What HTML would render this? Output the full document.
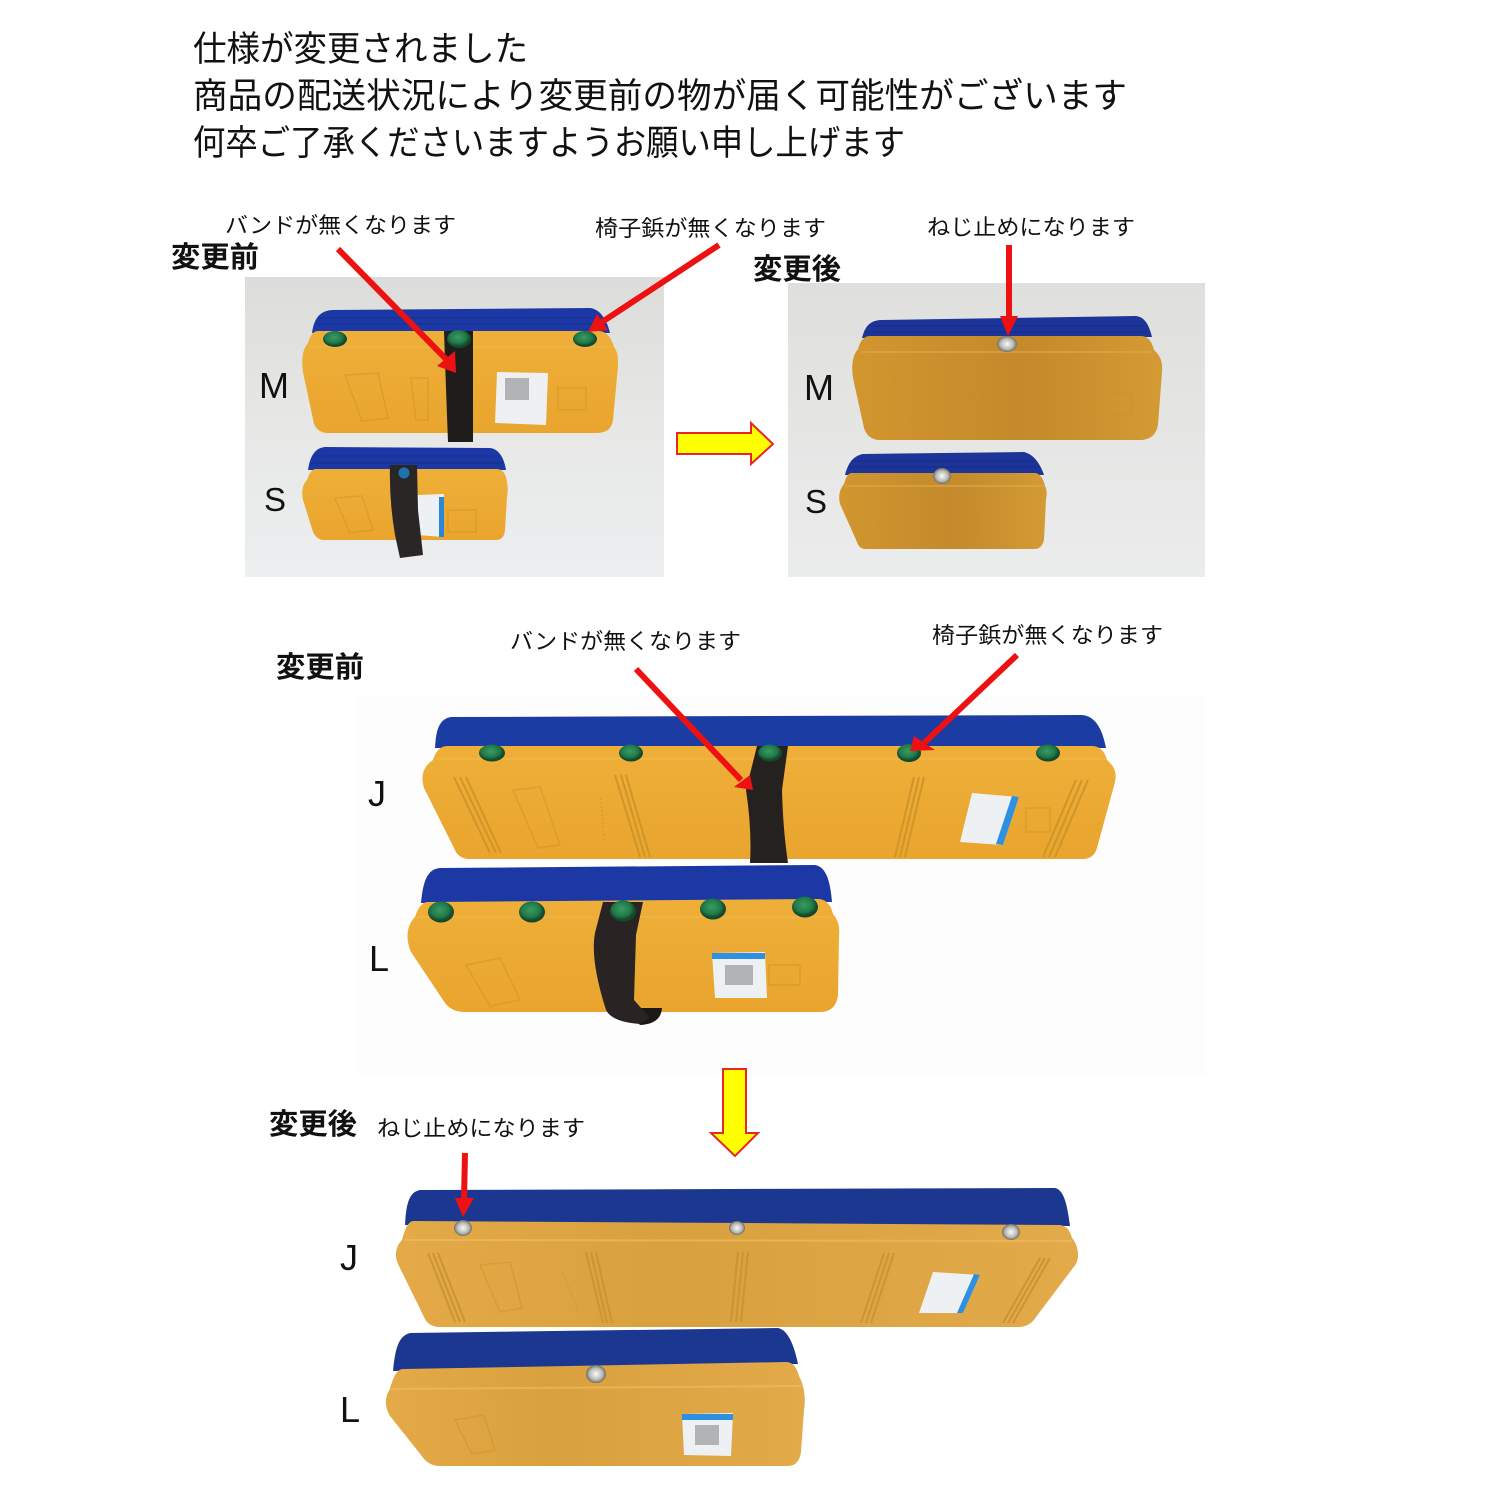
<!DOCTYPE html>
<html lang="ja"><head><meta charset="utf-8"><title>仕様変更</title>
<style>
html,body{margin:0;padding:0;background:#fff}
svg{display:block}
text{font-family:"Liberation Sans","Noto Sans CJK JP",sans-serif;fill:#111}
.t{font-size:35px}
.c{font-size:22px}
.b{font-size:29px;font-weight:700}
.l{font-size:36px}
.rib{stroke:#cf9528;stroke-width:2;fill:none}
.emb{stroke:#cc9226;stroke-width:1.5;fill:none;opacity:.5}
.cord{stroke:#12297e;stroke-width:1.2;fill:none;opacity:.5}
.edge{stroke:#f3bd58;stroke-width:1.5;fill:none;opacity:.5}
</style></head><body>
<svg width="1500" height="1500" viewBox="0 0 1500 1500" xmlns="http://www.w3.org/2000/svg">
<defs>
<linearGradient id="o" x1="0" y1="0" x2="0" y2="1"><stop offset="0" stop-color="#eeaf39"/><stop offset="1" stop-color="#e9a52e"/></linearGradient>
<linearGradient id="o2" x1="0" y1="0" x2="1" y2="0"><stop offset="0" stop-color="#d2962f"/><stop offset=".55" stop-color="#c48a2b"/><stop offset="1" stop-color="#d49a34"/></linearGradient>
<linearGradient id="o3" x1="0" y1="0" x2="1" y2="0"><stop offset="0" stop-color="#e5aa48"/><stop offset=".4" stop-color="#d9a03e"/><stop offset="1" stop-color="#e3aa4a"/></linearGradient>
<linearGradient id="bgl" x1="0" y1="0" x2="0" y2="1"><stop offset="0" stop-color="#dcdddb"/><stop offset=".5" stop-color="#e7e8e6"/><stop offset="1" stop-color="#eceef0"/></linearGradient>
<linearGradient id="bgr" x1="0" y1="0" x2="0" y2="1"><stop offset="0" stop-color="#dfe0de"/><stop offset=".5" stop-color="#e5e6e4"/><stop offset="1" stop-color="#ebecec"/></linearGradient>
<radialGradient id="g" cx=".45" cy=".4"><stop offset="0" stop-color="#3c9a63"/><stop offset=".7" stop-color="#1f7a48"/><stop offset="1" stop-color="#14492d"/></radialGradient>
<radialGradient id="s"><stop offset="0" stop-color="#fafafa"/><stop offset=".65" stop-color="#b9bbb6"/><stop offset="1" stop-color="#6f6d62"/></radialGradient>
</defs>
<rect width="1500" height="1500" fill="#fff"/>
<text class="t" x="193" y="61" textLength="335" lengthAdjust="spacingAndGlyphs">仕様が変更されました</text>
<text class="t" x="193" y="108" textLength="934" lengthAdjust="spacingAndGlyphs">商品の配送状況により変更前の物が届く可能性がございます</text>
<text class="t" x="193" y="155" textLength="712" lengthAdjust="spacingAndGlyphs">何卒ご了承くださいますようお願い申し上げます</text>

<!-- top left photo -->
<rect x="245" y="277" width="419" height="300" fill="url(#bgl)"/>
<path d="M312 333C314 318 320 311 332 310L590 308C600 309 607 320 610 333Z" fill="#1c38a6"/>
<path class="cord" d="M318 318H600M315 324H604"/>
<path d="M318 331H598C608 331 612 340 614 347C618 352 618 358 618 366L613 420Q611 433 597 433H328Q318 433 314 424L303 372C301 358 303 349 308 343C310 336 313 331 318 331Z" fill="url(#o)"/>
<path class="edge" d="M309 347H612"/>
<path class="emb" d="M345 375L378 373L388 418L362 421Z"/><path class="emb" d="M411 378H428V420H416Z"/><rect class="emb" x="558" y="388" width="28" height="22"/>
<path d="M444 331H473V442H448Q446 390 444 331Z" fill="#1f1c1c"/>
<polygon points="497,372 548,373 546,425 495,423" fill="#eef0f2"/>
<rect x="505" y="378" width="24" height="22" fill="#8a8a8c" opacity=".6"/>
<ellipse cx="335" cy="339" rx="12" ry="8" fill="url(#g)"/><ellipse cx="459" cy="339" rx="12" ry="9" fill="url(#g)"/><ellipse cx="585" cy="339" rx="12" ry="8" fill="url(#g)"/>
<path d="M308 470C310 456 315 448 325 447L490 448C499 449 504 458 506 470Z" fill="#1c38a6"/>
<path class="cord" d="M314 456H500M311 463H503"/>
<path d="M316 469H496C503 469 506 474 507 482C508 487 508 492 507 497L505 530Q504 540 496 540H324Q317 540 313 532L303 500C301 491 303 484 307 480C309 473 312 469 316 469Z" fill="url(#o)"/>
<path class="emb" d="M335 498L362 496L373 530L350 533Z"/><rect class="emb" x="448" y="510" width="28" height="22"/>
<polygon points="417,495 444,494 443,537 417,535" fill="#eef1f3"/>
<rect x="439" y="497" width="5" height="40" fill="#2a86d8"/>
<path d="M390 465H417L418 510L423 555L400 558L395 535Q389 500 390 465Z" fill="#2b2626"/>
<circle cx="404" cy="473" r="5.5" fill="#1d72b0"/>

<!-- top right photo -->
<rect x="788" y="283" width="417" height="294" fill="url(#bgr)"/>
<path d="M862 338C865 326 870 321 880 320L1136 316C1145 317 1149 325 1152 337Z" fill="#1d3499"/>
<path class="cord" d="M870 326H1145M865 332H1149"/>
<path d="M870 336H1141C1148 336 1152 342 1154 350C1160 355 1163 362 1162 372L1158 425Q1155 440 1140 440H880Q868 440 864 428L853 378C851 364 853 355 858 349C860 341 864 336 870 336Z" fill="url(#o2)"/>
<path d="M861 352H1152" stroke="#dcaa4c" stroke-width="2" fill="none" opacity=".6"/>
<path class="emb" d="M893 378L920 376L937 424L914 427Z"/><path class="emb" d="M960 382H976L978 424H963Z"/><rect class="emb" x="1100" y="393" width="32" height="22"/>
<path d="M845 475C848 463 853 456 863 454L1024 452C1033 454 1040 463 1044 475Z" fill="#1d3499"/>
<path class="cord" d="M852 461H1036M848 467H1040"/>
<path d="M852 473H1034C1040 473 1043 478 1045 486C1047 490 1047 494 1046 500L1044 540Q1042 549 1034 549H866Q859 549 857 542L840 504C838 495 840 489 844 484C846 477 848 473 852 473Z" fill="url(#o2)"/>
<path d="M845 486H1044" stroke="#dcaa4c" stroke-width="2" fill="none" opacity=".6"/>
<path class="emb" d="M870 503L896 500L908 538L888 541Z"/><rect class="emb" x="984" y="514" width="30" height="20"/>
<ellipse cx="1007" cy="344" rx="10" ry="8" fill="url(#s)"/>
<ellipse cx="942" cy="476" rx="9" ry="8" fill="url(#s)"/>

<!-- middle photo -->
<rect x="357" y="696" width="848" height="380" fill="#fdfdfd"/>
<path d="M435 748C436 728 440 718 452 717L1082 715C1095 716 1102 728 1106 748Z" fill="#1b3ca3"/>
<path d="M448 746H1092C1100 746 1105 752 1107 760C1114 766 1117 772 1115 782L1097 848Q1094 859 1082 859H470Q458 859 454 848L424 788C420 775 424 766 433 760C436 751 440 746 448 746Z" fill="url(#o)"/>
<path class="edge" d="M436 759H1106"/>
<g class="rib"><path d="M454 777L490 853M460 777L496 853M466 777L501 853"/><path d="M615 775L640 857M621 775L645 857M626 775L650 857"/><path d="M914 777L895 857M919 777L900 857M924 777L905 857"/><path d="M1076 780L1043 857M1082 780L1049 857M1088 780L1055 857"/></g>
<path class="emb" d="M513 790L540 787L560 845L538 848Z"/><path class="emb" d="M601 798L604 842" stroke-width="3" stroke-dasharray="2 2"/>
<polygon points="972,793 1019,797 1003,845 960,842" fill="#eef1f4"/>
<polygon points="1012,796 1019,797 1003,845 996,844" fill="#2f8fe0"/>
<rect x="1026" y="808" width="24" height="24" class="emb"/>
<path d="M757 746H788L782 790Q783 830 788 863H750Q752 830 746 790Z" fill="#25211f"/>
<ellipse cx="492" cy="753" rx="13" ry="8.5" fill="url(#g)"/><ellipse cx="631" cy="753" rx="12" ry="8.5" fill="url(#g)"/><ellipse cx="770" cy="753" rx="12" ry="8.5" fill="url(#g)"/><ellipse cx="909" cy="753" rx="12" ry="9" fill="url(#g)"/><ellipse cx="1048" cy="753" rx="12" ry="8.5" fill="url(#g)"/>
<path d="M421 903C423 880 428 869 440 868L815 865C826 867 830 880 832 902Z" fill="#1b38a4"/>
<path d="M428 902L818 899C826 899 831 905 833 914C838 920 840 926 839 936L838 995Q836 1012 820 1012H465Q452 1012 445 1003L411 952C405 938 407 925 415 917C418 908 422 902 428 902Z" fill="url(#o)"/>
<path class="edge" d="M417 917H832"/>
<path class="emb" d="M466 965L500 958L520 1000L490 1006Z"/><rect class="emb" x="769" y="965" width="31" height="20"/>
<polygon points="712,953 765,952 767,998 715,998" fill="#eef1f4"/>
<rect x="712" y="953" width="53" height="6" fill="#2f8fe0"/>
<rect x="725" y="965" width="28" height="20" fill="#8a8a8c" opacity=".6"/>
<path d="M625 1008L662 1008Q661 1024 640 1025Z" fill="#1b1817"/>
<path d="M603 902H643L636 935L634 1000L650 1018L640 1024Q612 1022 606 1010Q590 960 595 933Z" fill="#2a2323"/>
<ellipse cx="441" cy="912" rx="13" ry="10.5" fill="url(#g)"/><ellipse cx="532" cy="912" rx="13" ry="10.5" fill="url(#g)"/><ellipse cx="623" cy="911" rx="13" ry="10.5" fill="url(#g)"/><ellipse cx="713" cy="909" rx="13" ry="10.5" fill="url(#g)"/><ellipse cx="805" cy="907" rx="13" ry="10.5" fill="url(#g)"/>

<!-- bottom photo -->
<path d="M405 1225C406 1204 409 1192 420 1190L1055 1188C1064 1190 1067 1204 1070 1226Z" fill="#1c378f"/>
<path d="M414 1221L1058 1225C1066 1225 1070 1230 1072 1238C1078 1245 1080 1256 1076 1264L1036 1317Q1030 1327 1018 1327H440Q428 1327 424 1317L398 1264C394 1255 396 1246 402 1240C405 1229 408 1221 414 1221Z" fill="url(#o3)"/>
<path d="M405 1240L1072 1241" stroke="#f0bb5e" stroke-width="2" fill="none" opacity=".7"/>
<g class="rib" style="stroke:#cc9433"><path d="M428 1253L455 1322M433 1253L460 1322M438 1253L465 1322"/><path d="M586 1252L603 1323M591 1252L607 1323M596 1252L612 1323"/><path d="M738 1252L731 1322M743 1252L736 1322M748 1252L741 1322"/><path d="M884 1253L861 1323M889 1253L866 1323M894 1253L871 1323"/><path d="M1040 1258L1003 1323M1045 1258L1008 1323M1050 1258L1013 1323"/></g>
<path class="emb" d="M480 1265L510 1262L522 1308L500 1312Z"/><path class="emb" d="M562 1272L578 1310" stroke-width="3" stroke-dasharray="2 2"/>
<polygon points="933,1272 980,1275 963,1313 919,1313" fill="#eef1f4"/>
<polygon points="974,1274 980,1275 963,1313 957,1313" fill="#2f8fe0"/>
<ellipse cx="463" cy="1228" rx="9" ry="8" fill="url(#s)"/><ellipse cx="737" cy="1228" rx="8" ry="7" fill="url(#s)"/><ellipse cx="1011" cy="1232" rx="9" ry="8" fill="url(#s)"/>
<path d="M393 1371C395 1350 398 1336 410 1333L778 1328C788 1330 794 1345 798 1364Z" fill="#1c378f"/>
<path d="M403 1369L786 1362C793 1362 797 1368 799 1376C804 1385 806 1398 804 1410L801 1452Q799 1466 788 1466H440Q428 1466 421 1455L390 1416C384 1406 385 1396 390 1389C393 1377 397 1369 403 1369Z" fill="url(#o3)"/>
<path d="M391 1389L802 1386" stroke="#f0bb5e" stroke-width="2" fill="none" opacity=".7"/>
<path class="emb" d="M455 1420L484 1415L495 1450L472 1454Z"/>
<polygon points="682,1414 733,1413 731,1456 684,1455" fill="#eef1f4"/>
<rect x="682" y="1414" width="51" height="6" fill="#2f8fe0"/>
<rect x="695" y="1425" width="24" height="20" fill="#8a8a8c" opacity=".6"/>
<ellipse cx="596" cy="1374" rx="10" ry="9" fill="url(#s)"/>

<!-- red arrows -->
<g stroke="#ee1111" stroke-width="6" fill="#ee1111">
<line x1="338" y1="249" x2="447" y2="360"/><polygon points="456,373 437,366 455,351" stroke="none"/>
<line x1="719" y1="245" x2="602" y2="322"/><polygon points="588,332 597,314 608,330" stroke="none"/>
<line x1="1009" y1="245" x2="1009" y2="318"/><polygon points="1008,336 1000,316 1018,316" stroke="none"/>
<line x1="636" y1="669" x2="741" y2="780"/><polygon points="753,790 734,787 750,775" stroke="none"/>
<line x1="1017" y1="655" x2="924" y2="743"/><polygon points="910,751 914,736 935,750" stroke="none"/>
<line x1="465" y1="1153" x2="464" y2="1200"/><polygon points="463,1217 455,1198 474,1198" stroke="none"/>
</g>
<!-- yellow arrows -->
<polygon points="677,433 751,433 751,423 773,444 751,464 751,454 677,454" fill="#ffff00" stroke="#e8262a" stroke-width="2"/>
<polygon points="723,1069 746,1069 746,1133 758,1133 735,1156 711,1133 723,1133" fill="#ffff00" stroke="#e8262a" stroke-width="2"/>

<!-- captions -->
<text class="c" x="225" y="233" textLength="231" lengthAdjust="spacingAndGlyphs">バンドが無くなります</text>
<text class="c" x="595" y="236" textLength="231" lengthAdjust="spacingAndGlyphs">椅子鋲が無くなります</text>
<text class="c" x="927" y="235" textLength="208" lengthAdjust="spacingAndGlyphs">ねじ止めになります</text>
<text class="c" x="510" y="649" textLength="231" lengthAdjust="spacingAndGlyphs">バンドが無くなります</text>
<text class="c" x="932" y="643" textLength="231" lengthAdjust="spacingAndGlyphs">椅子鋲が無くなります</text>
<text class="c" x="377" y="1136" textLength="208" lengthAdjust="spacingAndGlyphs">ねじ止めになります</text>
<text class="b" x="171" y="267" textLength="88" lengthAdjust="spacingAndGlyphs">変更前</text>
<text class="b" x="753" y="279" textLength="88" lengthAdjust="spacingAndGlyphs">変更後</text>
<text class="b" x="276" y="677" textLength="88" lengthAdjust="spacingAndGlyphs">変更前</text>
<text class="b" x="269" y="1134" textLength="88" lengthAdjust="spacingAndGlyphs">変更後</text>
<text class="l" x="259" y="398">M</text>
<text class="l" x="264" y="511" style="font-size:33px">S</text>
<text class="l" x="804" y="400">M</text>
<text class="l" x="805" y="513" style="font-size:33px">S</text>
<text class="l" x="368" y="806">J</text>
<text class="l" x="369" y="971">L</text>
<text class="l" x="340" y="1270">J</text>
<text class="l" x="340" y="1422">L</text>
</svg>
</body></html>
